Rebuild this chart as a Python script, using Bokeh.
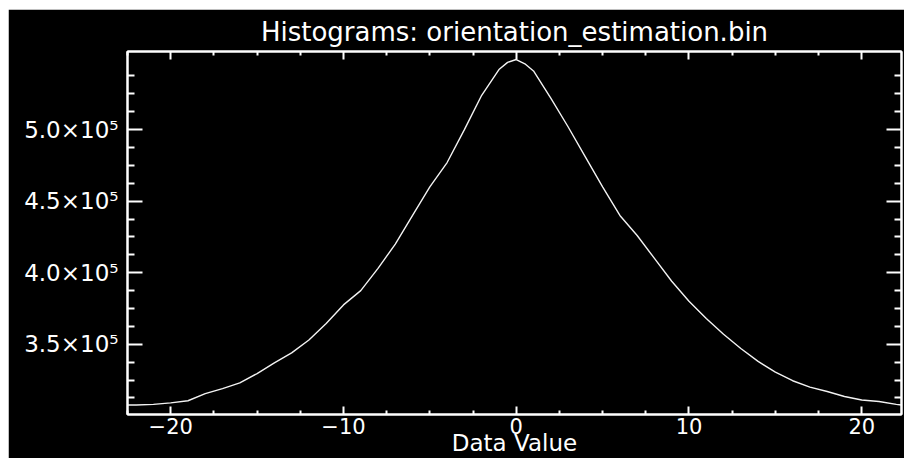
from bokeh.plotting import figure
from bokeh.models import (LinearAxis, FixedTicker, CustomJSTickFormatter,
                          Range1d, ColumnDataSource, Spacer)
from bokeh.layouts import column, row
from bokeh.embed import file_html
from bokeh.resources import INLINE

# ---- data ----
data_value = [-22.5, -22, -21, -20, -19, -18, -17, -16, -15, -14, -13, -12, -11,
              -10, -9, -8, -7, -6, -5, -4, -3, -2, -1, -0.5, 0, 0.5, 1, 2, 3,
              4, 5, 6, 7, 8, 9, 10, 11, 12, 13, 14, 15, 16, 17, 18, 19, 20,
              21, 22, 22.3]
counts = [307500, 307500, 308000, 309000, 310500, 315500, 319000, 323000, 329500,
          337000, 344000, 353000, 364500, 377500, 387500, 403000, 420000, 440000,
          460000, 477000, 500000, 524000, 542000, 547000, 549000, 546000, 541000,
          522000, 502000, 481000, 460000, 440000, 426000, 410000, 394000, 380000,
          368000, 357000, 347000, 338000, 330500, 324500, 320000, 317000, 313500,
          311000, 310000, 308000, 307500]
x_major_ticks = [-20, -10, 0, 10, 20]
x_minor_ticks = [-22.5, -17.5, -15, -12.5, -7.5, -5, -2.5, 2.5, 5, 7.5, 12.5, 15, 17.5, 22.5]
y_major_ticks = [350000, 400000, 450000, 500000]
y_minor_ticks = [312500, 325000, 337500, 362500, 375000, 387500, 412500, 425000,
                 437500, 462500, 475000, 487500, 512500, 525000, 537500]
title_text = "Histograms: orientation_estimation.bin"
x_label = "Data Value"

FONT = "DejaVu Sans"
FG = "white"

p = figure(width=896, height=449, output_backend="svg", toolbar_location=None,
           x_range=Range1d(-22.5, 22.3), y_range=Range1d(300900, 554600),
           x_axis_type=None, y_axis_type=None,
           min_border_left=119, min_border_right=3, min_border_top=39,
           min_border_bottom=43)

p.background_fill_color = "black"
p.border_fill_color = "black"
p.outline_line_color = FG
p.outline_line_width = 2
p.xgrid.visible = False
p.ygrid.visible = False

p.title.text = title_text
p.title.align = "center"
p.title.text_color = FG
p.title.text_font = FONT
p.title.text_font_size = "26px"
p.title.text_font_style = "normal"

src = ColumnDataSource(dict(x=data_value, y=counts))
p.line("x", "y", source=src, line_color="#f2f2f2", line_width=1.4)

xfmt = CustomJSTickFormatter(code="return tick < 0 ? '\u2212' + Math.abs(tick) : '' + tick;")
yfmt = CustomJSTickFormatter(code="return (tick/1e5).toFixed(1) + '\u00d710\u2075';")
blank = CustomJSTickFormatter(code="return '';")


def style(ax, maj, minr, size):
    ax.axis_line_color = FG
    ax.axis_line_width = 2
    ax.major_tick_line_color = FG
    ax.minor_tick_line_color = FG
    ax.major_tick_line_width = 2
    ax.minor_tick_line_width = 2
    ax.major_tick_in = maj
    ax.major_tick_out = 0
    ax.minor_tick_in = minr
    ax.minor_tick_out = 0
    ax.major_label_text_color = FG
    ax.major_label_text_font = FONT
    ax.major_label_text_font_size = size


def xticker():
    return FixedTicker(ticks=x_major_ticks, minor_ticks=x_minor_ticks)


def yticker():
    return FixedTicker(ticks=y_major_ticks, minor_ticks=y_minor_ticks)


xb = LinearAxis(ticker=xticker(), formatter=xfmt)
style(xb, 8, 4, "21px")
xb.major_label_standoff = 3
xb.axis_label = x_label
xb.axis_label_text_color = FG
xb.axis_label_text_font = FONT
xb.axis_label_text_font_size = "23px"
xb.axis_label_text_font_style = "normal"
xb.axis_label_standoff = -7
p.add_layout(xb, "below")

xt = LinearAxis(ticker=xticker(), formatter=blank)
style(xt, 8, 4, "10px")
xt.major_label_standoff = 0
p.add_layout(xt, "above")

yl = LinearAxis(ticker=yticker(), formatter=yfmt)
style(yl, 15, 7, "23px")
yl.major_label_standoff = 9
p.add_layout(yl, "left")

yr = LinearAxis(ticker=yticker(), formatter=blank)
style(yr, 15, 7, "10px")
yr.major_label_standoff = 0
p.add_layout(yr, "right")

layout = column(Spacer(height=9, width=904),
                row(Spacer(width=8, height=449), p))

open("out.html", "w").write(file_html(layout, INLINE))
